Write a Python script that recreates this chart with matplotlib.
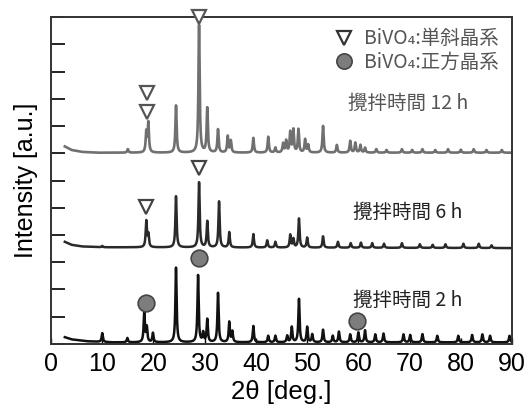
import matplotlib
matplotlib.use("Agg")
import matplotlib.pyplot as plt
import numpy as np
from matplotlib.lines import Line2D
from matplotlib.font_manager import FontProperties

plt.rcParams["font.family"] = ["Liberation Sans", "DejaVu Sans"]

# baseline shape (absolute y, stacked offsets already included)
base12_x = [2.7, 4.0, 6.0, 9.0, 90.0]
base12_y = [7.25, 7.12, 7.05, 7.02, 7.02]
base6_x = [2.7, 4.0, 6.0, 10.0, 90.0]
base6_y = [3.75, 3.64, 3.58, 3.55, 3.52]
base2_x = [2.7, 4.0, 7.0, 12.0, 90.0]
base2_y = [0.25, 0.17, 0.10, 0.06, 0.06]

# peak positions [deg] and apex heights (absolute y)
pk12_pos = [15.0, 18.6, 19.0, 24.4, 28.9, 30.5, 32.6, 34.5, 35.1, 39.5, 42.4,
            43.8, 45.3, 45.9, 46.7, 47.3, 48.3, 49.6, 50.2, 53.1, 55.8, 58.4,
            59.4, 60.4, 61.3, 63.5, 65.5, 68.5, 70.5, 72.5, 75.0, 77.5, 80.0,
            82.5, 85.0, 88.0]
pk12_top = [7.15, 7.75, 8.1, 8.75, 11.7, 8.65, 7.87, 7.62, 7.45, 7.56, 7.6,
            7.2, 7.35, 7.45, 7.76, 7.85, 7.87, 7.5, 7.3, 8.0, 7.3, 7.45,
            7.38, 7.3, 7.2, 7.15, 7.12, 7.15, 7.12, 7.15, 7.12, 7.15, 7.13,
            7.15, 7.12, 7.12]

pk6_pos = [10.0, 18.6, 19.0, 24.4, 28.9, 30.5, 32.8, 34.8, 39.5, 42.2, 43.8,
           46.7, 47.3, 48.4, 50.0, 53.1, 56.0, 58.5, 60.5, 62.7, 65.0, 68.5,
           72.0, 74.5, 77.0, 80.5, 83.5, 86.0]
pk6_top = [3.6, 4.5, 4.0, 5.42, 5.93, 4.5, 5.23, 4.1, 4.03, 3.8, 3.75,
           4.0, 3.85, 4.6, 3.9, 3.95, 3.75, 3.7, 3.72, 3.7, 3.68, 3.7,
           3.66, 3.64, 3.66, 3.68, 3.68, 3.62]

pk2_pos = [10.0, 14.9, 18.2, 18.7, 19.9, 24.4, 28.7, 29.7, 30.5, 32.6, 34.8,
           35.4, 39.5, 42.4, 43.8, 46.1, 47.0, 48.4, 50.0, 51.0, 53.1, 55.0,
           56.2, 58.4, 60.0, 61.3, 63.3, 64.9, 68.8, 70.1, 72.5, 75.4, 79.5,
           82.2, 84.2, 85.7, 89.5]
pk2_top = [0.4, 0.22, 1.15, 0.6, 0.4, 2.8, 2.52, 0.4, 0.9, 1.87, 0.8,
           0.45, 0.66, 0.3, 0.3, 0.3, 0.62, 1.65, 0.62, 0.35, 0.52, 0.3,
           0.45, 0.35, 0.42, 0.5, 0.35, 0.38, 0.35, 0.33, 0.36, 0.3, 0.3,
           0.33, 0.35, 0.3, 0.3]

# phase markers
mono12_x = [18.7, 18.7, 28.9]
mono12_y = [9.2, 8.5, 12.0]
mono6_x = [18.6, 28.9]
mono6_y = [5.02, 6.45]
tetra2_x = [18.6, 28.8, 59.8]
tetra2_y = [1.5, 3.15, 0.84]

labels = ["攪拌時間 12 h", "攪拌時間 6 h", "攪拌時間 2 h"]
legend_labels = ["BiVO\u2084:単斜晶系", "BiVO\u2084:正方晶系"]

theta = np.linspace(2.7, 90, 6000)


def pattern(bx, by, pos, top, w=0.14):
    base = np.interp(theta, bx, by)
    y = base.copy()
    for p, t in zip(pos, top):
        h = t - np.interp(p, bx, by)
        y += h / (1 + ((theta - p) / w) ** 2)
    return y


fig = plt.figure(figsize=(5.29, 4.07), dpi=100)
ax = fig.add_axes([0.0964, 0.1548, 0.8716, 0.8034])

ax.plot(theta, pattern(base12_x, base12_y, pk12_pos, pk12_top), color="#707070", lw=1.9)
ax.plot(theta, pattern(base6_x, base6_y, pk6_pos, pk6_top), color="#2a2a2a", lw=1.8)
ax.plot(theta, pattern(base2_x, base2_y, pk2_pos, pk2_top), color="#111111", lw=1.8)

tri = dict(marker="v", ls="none", ms=10, mfc="white", mew=1.6, clip_on=False, zorder=5)
ax.plot(mono12_x, mono12_y, mec="#555555", **tri)
ax.plot(mono6_x, mono6_y, mec="#444444", **tri)
ax.plot(tetra2_x, tetra2_y, marker="o", ls="none", ms=12, mfc="#7d7d7d",
        mec="#444444", mew=1.2, zorder=5)

jp = FontProperties(family=["Noto Sans CJK JP", "DejaVu Sans"], size=14)
ax.text(69.7, 8.83, labels[0], fontproperties=jp, color="#555555", ha="center", va="center")
ax.text(69.7, 4.83, labels[1], fontproperties=jp, color="#222222", ha="center", va="center")
ax.text(69.7, 1.6, labels[2], fontproperties=jp, color="#222222", ha="center", va="center")

handles = [
    Line2D([], [], marker="v", ls="none", ms=10, mfc="white", mec="#333333", mew=1.6),
    Line2D([], [], marker="o", ls="none", ms=11, mfc="#7d7d7d", mec="#444444", mew=1.2),
]
ax.legend(handles, legend_labels, loc="upper right", bbox_to_anchor=(1.0, 1.007),
          frameon=False, prop=FontProperties(family=["Noto Sans CJK JP", "DejaVu Sans"], size=14),
          labelcolor="#555555", handletextpad=0.5, labelspacing=0.15, handlelength=1.0,
          borderaxespad=0.3)

ax.set_xlim(0, 90)
ax.set_ylim(0, 12)
ax.set_xticks(np.arange(0, 91, 10))
ax.set_yticks(np.arange(0, 13, 1))
ax.set_yticklabels([])
ax.tick_params(axis="y", direction="in", length=10, width=1.2, left=True, right=False)
ax.tick_params(axis="x", direction="in", length=4, width=1.0, labelsize=18, pad=6)
for s in ax.spines.values():
    s.set_linewidth(1.4)
    s.set_color("#333333")

ax.set_xlabel("2θ [deg.]", fontsize=18.5, labelpad=3)
ax.set_ylabel("Intensity [a.u.]", fontsize=18, labelpad=6)

fig.savefig("out.png", dpi=100)
